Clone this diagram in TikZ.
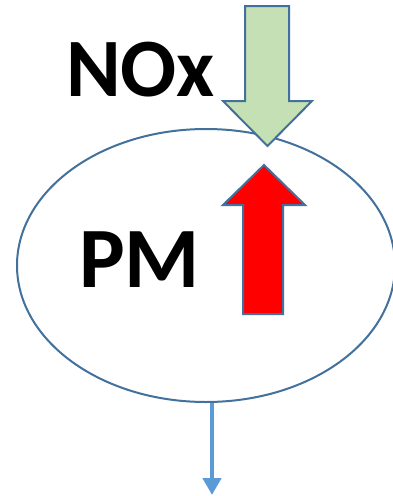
\documentclass[tikz,border=0pt]{standalone}
\usepackage{fontspec}
\setmainfont{Carlito}
\usetikzlibrary{arrows.meta,shapes.geometric}
\definecolor{edgeblue}{HTML}{41719C}
\definecolor{flowblue}{HTML}{5B9BD5}
\definecolor{noxgreen}{HTML}{C5E0B4}
\tikzset{
  blockarrow/.style={draw=edgeblue, line width=2pt, line join=miter},
  bigtext/.style={font=\bfseries\fontsize{#1}{#1}\selectfont, inner sep=0pt, text=black},
}
\begin{document}
\begin{tikzpicture}[x=1pt,y=-1pt]
  \useasboundingbox (0,0) rectangle (393,496);
  \fill[white] (0,0) rectangle (393,496);

  % particle filter body
  \node[ellipse, draw=edgeblue, line width=2pt, minimum width=378pt, minimum height=273pt, inner sep=0pt] (ell) at (206,265.5) {};

  % outflow
  \coordinate (out) at (212,495);
  \draw[flowblue, line width=4.5pt, -{Triangle[length=17pt,width=18pt]}] (ell.south -| out) -- (out);

  % NOx going in
  \draw[blockarrow, fill=noxgreen]
    (245,6) -- (289,6) -- (289,101) -- (312,101) -- (267.5,146) -- (223,101) -- (245,101) -- cycle;

  % PM going up
  \draw[blockarrow, fill=red]
    (243,314) -- (283,314) -- (283,205) -- (305,205) -- (264,165) -- (223,205) -- (243,205) -- cycle;

  % labels
  \node[bigtext=83, anchor=base west] (nox) at (66,96.5) {NOx};
  \node[bigtext=86, anchor=base west] (pm) at (79,287) {PM};
\end{tikzpicture}
\end{document}
